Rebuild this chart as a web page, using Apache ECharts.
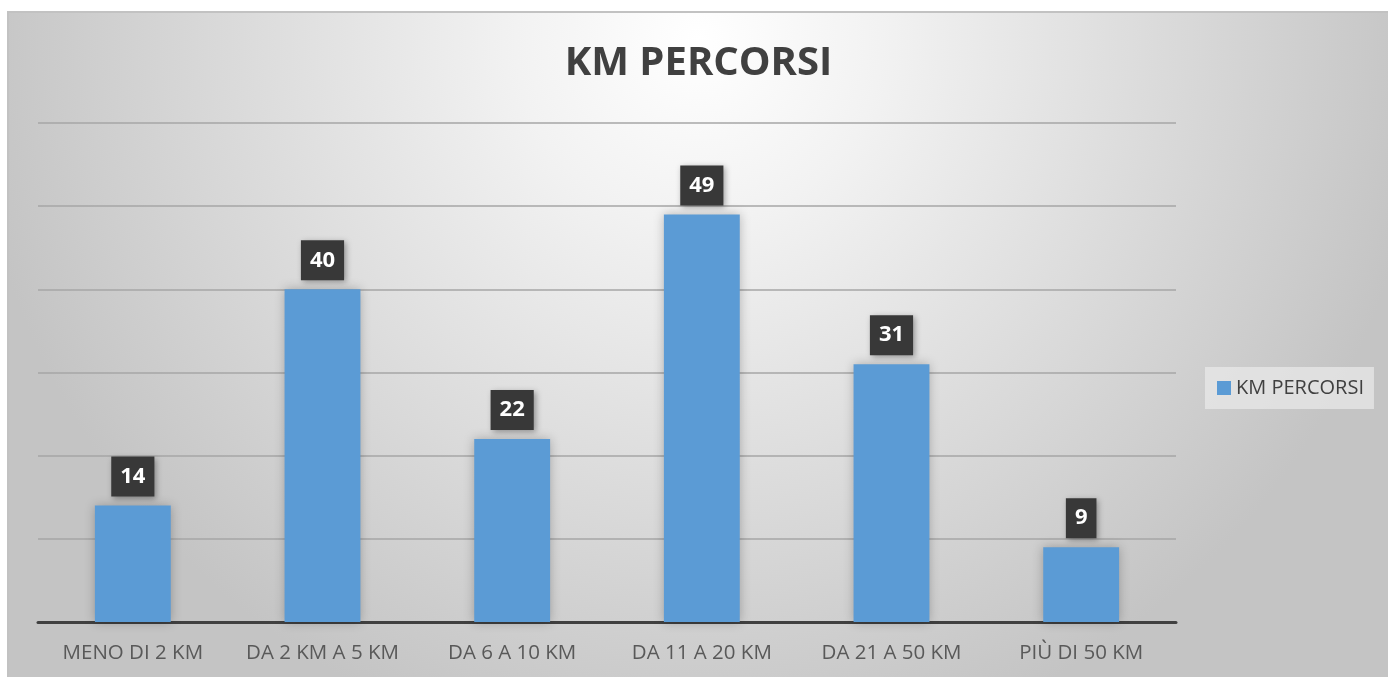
<!DOCTYPE html>
<html>
<head>
<meta charset="utf-8">
<script src="https://cdn.jsdelivr.net/npm/echarts@6/dist/echarts.min.js"></script>
<style>
  html, body { margin: 0; padding: 0; background: #fff; }
  #main {
    position: absolute; left: 7px; top: 11px;
    width: 1381px; height: 666px;
    box-sizing: border-box;
    border-top: 2px solid #c2c2c2; border-left: 2px solid #c2c2c2;
  }
</style>
</head>
<body>
<div id="main"></div>
<script>
const categories = ['MENO DI 2 KM', 'DA 2 KM A 5 KM', 'DA 6 A 10 KM', 'DA 11 A 20 KM', 'DA 21 A 50 KM', 'PIÙ DI 50 KM'];
const kmValues = [14, 40, 22, 49, 31, 9];
const seriesName = 'KM PERCORSI';

const font = 'Open Sans';
const chart = echarts.init(document.getElementById('main'));

chart.setOption({
  backgroundColor: {
    type: 'radial', x: 0.5, y: 0.04, r: 1.1,
    colorStops: [
      { offset: 0, color: '#ffffff' },
      { offset: 0.25, color: '#f2f2f2' },
      { offset: 1, color: '#c4c4c4' }
    ]
  },
  title: {
    text: 'KM PERCORSI',
    left: 'center',
    top: 26,
    textStyle: { fontFamily: font, fontSize: 40, fontWeight: 'bold', color: '#404040' }
  },
  legend: {
    data: [seriesName],
    left: 1196, top: 354,
    backgroundColor: 'rgba(232,232,232,0.75)',
    padding: [11, 10, 11, 12],
    icon: 'rect', itemWidth: 14, itemHeight: 14, itemGap: 6,
    textStyle: { fontFamily: font, fontSize: 20, color: '#404040' }
  },
  grid: { left: 29, right: 212, top: 110, bottom: 55 },
  xAxis: {
    type: 'category',
    data: categories,
    axisLine: { lineStyle: { color: '#404040', width: 3 } },
    axisTick: { show: false },
    axisLabel: { interval: 0, hideOverlap: false, fontFamily: font, fontSize: 20.5, color: '#595959', margin: 21 }
  },
  yAxis: {
    type: 'value',
    min: 0, max: 60, interval: 10,
    axisLabel: { show: false },
    axisLine: { show: false },
    axisTick: { show: false },
    splitLine: { lineStyle: { color: '#a6a6a6', width: 1.5 } }
  },
  series: [{
    name: seriesName,
    type: 'bar',
    data: kmValues,
    barWidth: '40%',
    itemStyle: { color: '#5b9bd5', shadowColor: 'rgba(0,0,0,0.25)', shadowBlur: 10 },
    label: {
      show: true,
      position: 'top',
      distance: 9,
      fontFamily: font, fontSize: 22, fontWeight: 'bold',
      color: '#ffffff',
      backgroundColor: '#383838',
      padding: [6, 9],
      lineHeight: 28,
      shadowColor: 'rgba(0,0,0,0.35)', shadowBlur: 6, shadowOffsetX: 2, shadowOffsetY: 2
    }
  }]
});
</script>
</body>
</html>
